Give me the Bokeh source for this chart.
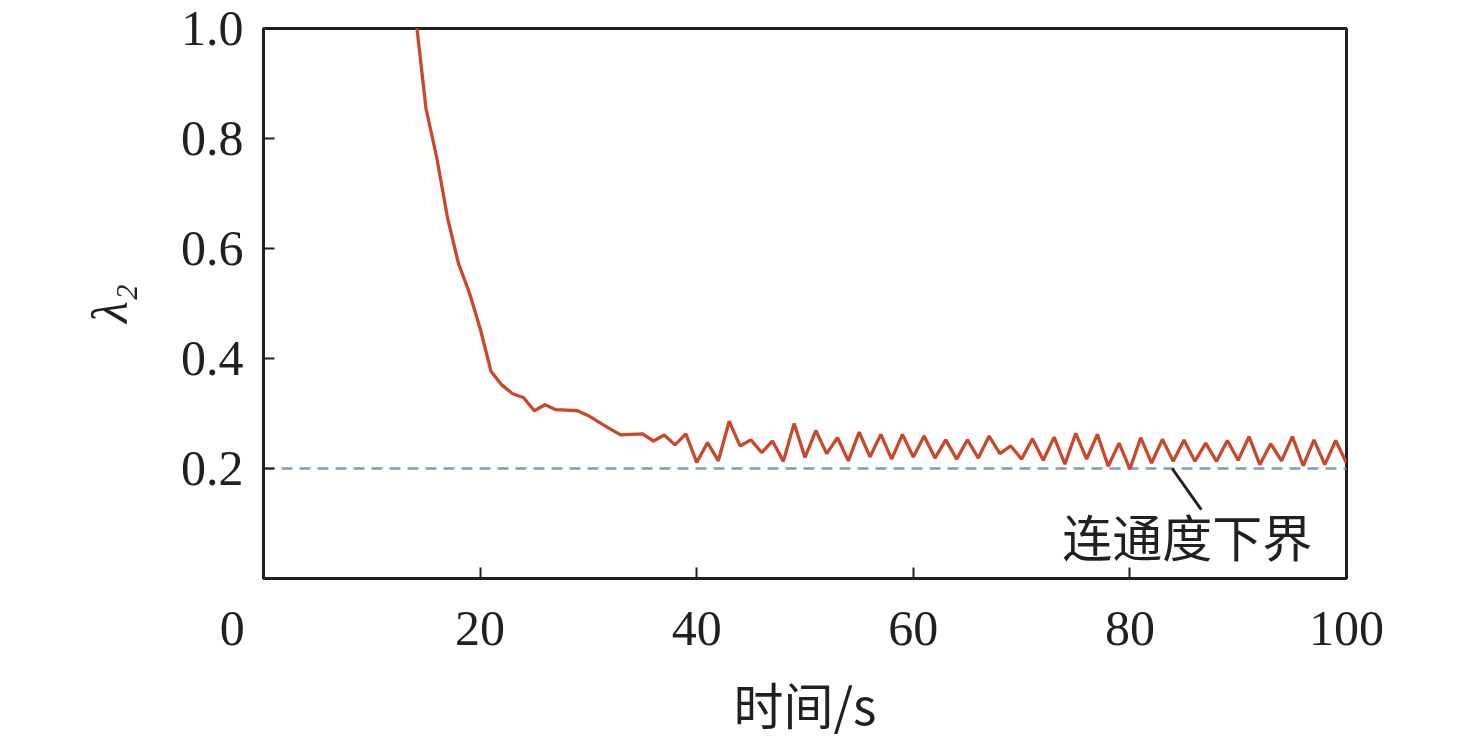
from bokeh.plotting import figure
from bokeh.models import Range1d, FixedTicker, Label, PrintfTickFormatter
from bokeh.embed import file_html
from bokeh.resources import INLINE

# ---- data ----
time_s = list(range(14, 101))
lambda2 = [
    1.03, 0.855, 0.765, 0.655, 0.573, 0.52, 0.455, 0.377, 0.352, 0.336,   # 14-23
    0.329, 0.305, 0.316, 0.307, 0.306, 0.305, 0.296, 0.284, 0.272, 0.261, # 24-33
    0.262, 0.263, 0.250, 0.261, 0.243, 0.263, 0.211, 0.247, 0.214, 0.286, # 34-43
    0.241, 0.252, 0.229, 0.250, 0.213, 0.282, 0.220, 0.269, 0.227, 0.256, # 44-53
    0.214, 0.266, 0.221, 0.262, 0.217, 0.262, 0.221, 0.259, 0.219, 0.252, # 54-63
    0.217, 0.252, 0.219, 0.259, 0.227, 0.241, 0.217, 0.254, 0.215, 0.257, # 64-73
    0.208, 0.264, 0.217, 0.262, 0.204, 0.246, 0.199, 0.256, 0.210, 0.253, # 74-83
    0.213, 0.252, 0.213, 0.246, 0.213, 0.251, 0.215, 0.258, 0.207, 0.245, # 84-93
    0.214, 0.258, 0.205, 0.252, 0.207, 0.251, 0.210,                      # 94-100
]
threshold_x = [0, 100]
threshold_y = [0.2, 0.2]
x_ticks = [0, 20, 40, 60, 80, 100]
y_ticks = [0.2, 0.4, 0.6, 0.8, 1.0]
x_title = "时间/s"
y_title = "λ₂"
annot_text = "连通度下界"

SERIF = "Liberation Serif"
CJK = "Noto Sans CJK SC"
INK = "#231f20"

p = figure(width=1476, height=741, output_backend="svg", toolbar_location=None,
           x_range=Range1d(0, 100), y_range=Range1d(0, 1),
           min_border_left=263, min_border_right=130,
           min_border_top=28, min_border_bottom=156)
p.grid.visible = False
p.outline_line_color = INK
p.outline_line_width = 3
p.background_fill_color = "white"
p.border_fill_color = "white"

for ax in (p.xaxis[0], p.yaxis[0]):
    ax.axis_line_color = INK
    ax.axis_line_width = 3
    ax.major_tick_line_color = INK
    ax.major_tick_line_width = 2
    ax.major_tick_in = 11
    ax.major_tick_out = 0
    ax.minor_tick_line_color = None
    ax.major_label_text_font = SERIF
    ax.major_label_text_font_size = "50px"
    ax.major_label_text_color = INK
    ax.axis_label_text_color = INK
    ax.axis_label_text_font_style = "normal"

p.xaxis.ticker = FixedTicker(ticks=x_ticks)
p.yaxis.ticker = FixedTicker(ticks=y_ticks)
p.yaxis.formatter = PrintfTickFormatter(format="%.1f")
# the shared origin label "0" sits left of the corner
p.xaxis.major_label_overrides = {0: "0" + "\u00a0" * 5}
p.xaxis.major_label_standoff = 21
p.yaxis.major_label_standoff = 20

p.xaxis.axis_label = x_title
p.xaxis.axis_label_text_font = CJK
p.xaxis.axis_label_text_font_size = "50px"
p.xaxis.axis_label_standoff = 8

p.yaxis.axis_label = y_title
p.yaxis.axis_label_text_font = SERIF
p.yaxis.axis_label_text_font_style = "italic"
p.yaxis.axis_label_text_font_size = "50px"
p.yaxis.axis_label_standoff = 40

# threshold line
p.line(threshold_x, threshold_y, line_color="#7f9cc6", line_width=2.5, line_dash="11 7")
# lambda2 curve
p.line(time_s, lambda2, line_color="#c9472a", line_width=3.3)

# leader line for annotation
p.segment(x0=[83.9], y0=[0.2], x1=[86.6], y1=[0.125], line_color=INK, line_width=3)
p.add_layout(Label(x=85.3, y=0.08, text=annot_text, text_font=CJK, text_font_size="50px",
                   text_align="center", text_baseline="middle", text_color=INK))

open("out.html", "w").write(file_html(p, INLINE))
